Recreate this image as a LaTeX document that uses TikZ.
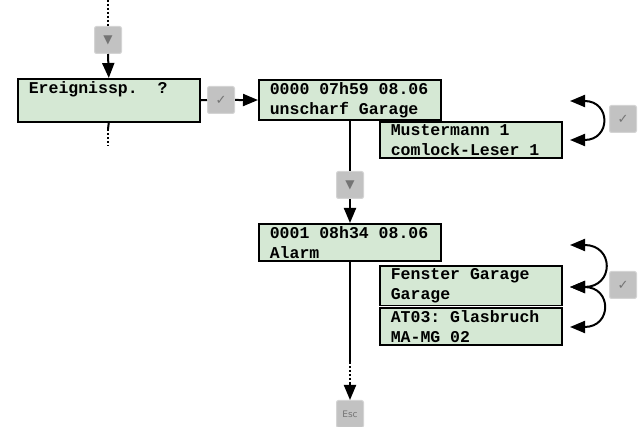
\documentclass[tikz,border=0pt]{standalone}
\usepackage{fontspec}
\usetikzlibrary{arrows.meta}
\newfontfamily\lcdfont{Liberation Mono}
\newfontfamily\symfont{DejaVu Sans}
\newcommand\lcdspaces{\spaceskip=0.6em\relax\xspaceskip=0.6em\relax}
\definecolor{lcdgreen}{HTML}{D5E8D4}
\definecolor{keygray}{HTML}{C2C2C2}
\definecolor{symgray}{HTML}{747474}
\tikzset{
  lcd/.style={draw, line width=1.6pt, fill=lcdgreen, anchor=north west,
    inner xsep=11pt, inner ysep=2.5pt, text width=160pt, align=left,
    font=\lcdfont\bfseries\fontsize{16.5}{20}\selectfont,
    execute at begin node=\lcdspaces},
  key/.style={fill=keygray, draw=keygray!70, line width=1pt, rounded corners=2pt,
    minimum width=27pt, minimum height=27pt, inner sep=0pt, text=symgray},
  flow/.style={line width=2pt, -{Triangle[length=15pt,width=12pt]}},
  link/.style={line width=2pt},
  dots/.style={line width=2pt, dash pattern=on 2pt off 2pt},
  swap/.style={line width=2pt, {Triangle[length=15pt,width=12pt]}-{Triangle[length=15pt,width=12pt]}}
}
\begin{document}
\begin{tikzpicture}[x=1pt, y=-1pt]
    \useasboundingbox (0,0) rectangle (638,427);

    % Displays
    \node[lcd] (ereig) at (17,78) {Ereignissp.\ \ ?\\\strut};
    \node[lcd] (evA) at (258,79) {0000 07h59 08.06\\unscharf Garage};
    \node[lcd] (evAdet) at (379,121) {Mustermann 1\\comlock-Leser 1};
    \node[lcd] (evB) at (258,223) {0001 08h34 08.06\\Alarm};
    \node[lcd] (evBdet1) at (379,265) {Fenster Garage\\Garage};
    \node[lcd] (evBdet2) at (379,307) {AT03: Glasbruch\\MA-MG 02};

    % Keys
    \node[key] (keyDown1) at (108,40) {\symfont\fontsize{12}{12}\selectfont ▼};
    \node[key] (keyOk1) at (221,100) {\symfont\fontsize{13}{13}\selectfont ✓};
    \node[key] (keyOk2) at (623,119) {\symfont\fontsize{13}{13}\selectfont ✓};
    \node[key] (keyDown2) at (350,185) {\symfont\fontsize{12}{12}\selectfont ▼};
    \node[key] (keyOk3) at (623,285) {\symfont\fontsize{13}{13}\selectfont ✓};
    \node[key] (keyEsc) at (350,414) {\symfont\fontsize{9}{9}\selectfont Esc};

    % Free ends
    \coordinate (topIn) at (108,0);
    \coordinate (ereigOut) at (108,129);
    \coordinate (ereigEnd) at (108,146);
    \coordinate (escA) at (350,362);
    \coordinate (escB) at (350,384);
    \coordinate (aTop) at (570,101);
    \coordinate (aBot) at (570,140);
    \coordinate (bTop) at (570,245);
    \coordinate (bMid) at (570,287);
    \coordinate (bBot) at (570,327);

    % Flow
    \draw[dots] (topIn) -- (keyDown1.north);
    \draw[flow] (keyDown1.south) -- (ereig.north);
    \draw[link] (ereig.south) -- (ereigOut);
    \draw[dots] (ereigOut) -- (ereigEnd);
    \draw[link] (ereig.east) -- (keyOk1.west);
    \draw[flow] (keyOk1.east) -- (evA.west);
    \draw[link] (evA.south -| keyDown2) -- (keyDown2.north);
    \draw[flow] (keyDown2.south) -- (evB.north -| keyDown2);
    \draw[link] (evB.south -| keyDown2) -- (escA);
    \draw[dots] (escA) -- (escB);
    \draw[flow] (escB) -- (keyEsc.north);

    % Scrolling
    \draw[swap] (aTop) to[out=0, in=0, looseness=2.7] (aBot);
    \draw[swap] (bTop) to[out=0, in=0, looseness=2.7] (bMid);
    \draw[swap] (bMid) to[out=0, in=0, looseness=2.7] (bBot);
\end{tikzpicture}
\end{document}
